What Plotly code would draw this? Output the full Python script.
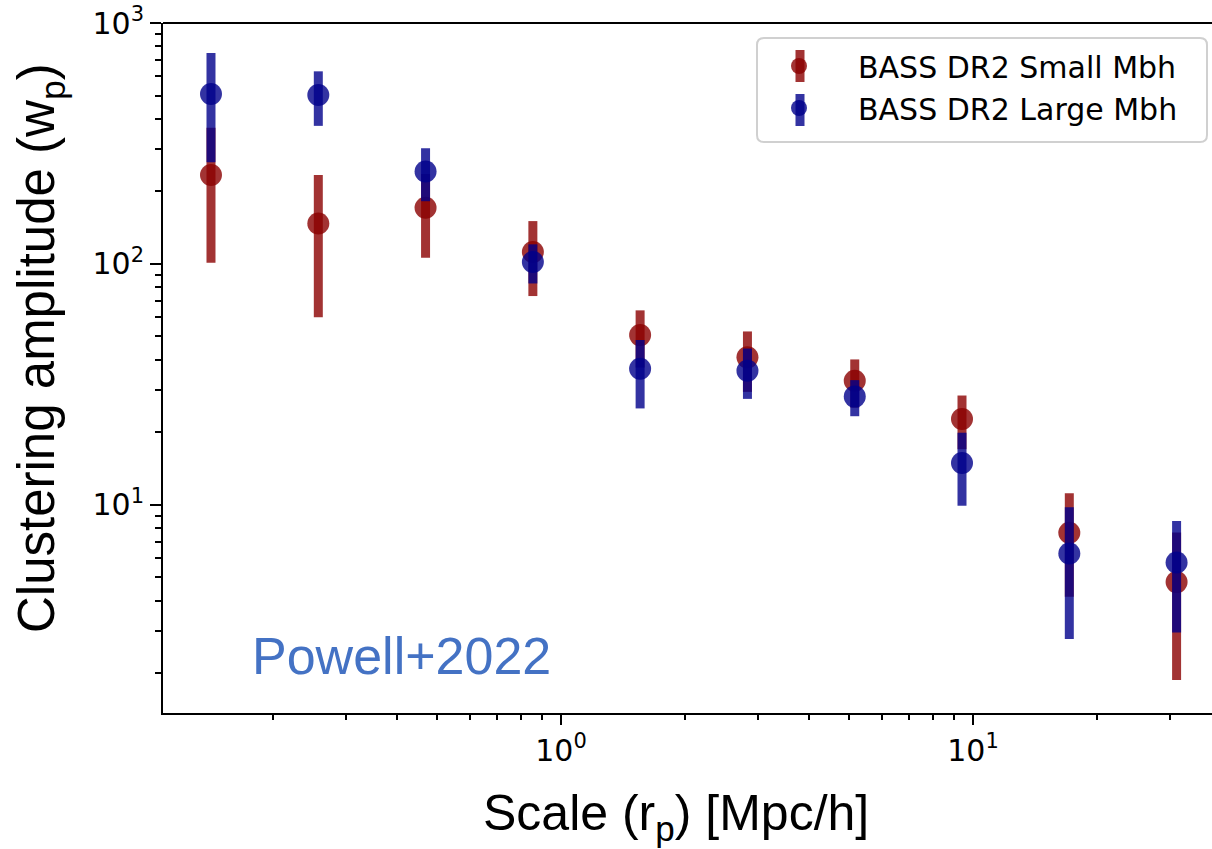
import plotly.graph_objects as go

# ---- data ----
scale_rp = [0.1414, 0.2576, 0.4691, 0.8545, 1.556, 2.835, 5.164, 9.404, 17.13, 31.20]
small_wp = [234, 147, 171, 112, 50.6, 40.9, 32.7, 22.7, 7.65, 4.77]
small_err = [133, 87, 65, 38.5, 13.5, 11.5, 7.4, 5.7, 3.5, 2.9]
large_wp = [507, 502, 242, 101.7, 36.7, 36.0, 28.1, 14.9, 6.27, 5.75]
large_err = [243, 128, 60, 18.8, 11.6, 8.5, 4.8, 5.0, 3.5, 2.8]
series_names = ["BASS DR2 Small Mbh", "BASS DR2 Large Mbh"]
x_major = [1, 10]
x_major_text = ["10<sup>0</sup>", "10<sup>1</sup>"]
y_major = [10, 100, 1000]
y_major_text = ["10<sup>1</sup>", "10<sup>2</sup>", "10<sup>3</sup>"]
x_minor = [0.2, 0.3, 0.4, 0.5, 0.6, 0.7, 0.8, 0.9, 2, 3, 4, 5, 6, 7, 8, 9, 20, 30]
y_minor = [2, 3, 4, 5, 6, 7, 8, 9, 20, 30, 40, 50, 60, 70, 80, 90, 200, 300, 400, 500, 600, 700, 800, 900]

RED = "rgba(139,0,0,0.8)"
BLUE = "rgba(0,0,139,0.8)"
COLORS = [RED, BLUE]

fig = go.Figure()
for name, y, e, c in [(series_names[0], small_wp, small_err, RED),
                      (series_names[1], large_wp, large_err, BLUE)]:
    fig.add_trace(go.Scatter(
        x=scale_rp, y=y, mode="markers", name=name,
        marker=dict(size=22, color=c, line=dict(width=0)),
        error_y=dict(type="data", array=e, symmetric=True, color=c,
                     thickness=9, width=0),
    ))

# body margin is removed by post_script, so the figure fills the window
W, H = 1212, 849
SL, ST, SR, SB = 163, 23, 1212, 713       # plot area in screen pixels
L, T = SL, ST
pw, ph = SR - SL, SB - ST
R, B = W - L - pw, H - T - ph

def px(xp):
    return (xp - SL) / pw

def py(yp):
    return (SB - yp) / ph

fig.update_layout(
    width=W, height=H,
    margin=dict(l=L, r=R, t=T, b=B, pad=0, autoexpand=False),
    paper_bgcolor="white", plot_bgcolor="white",
    showlegend=True,
    legend=dict(x=px(740), y=py(40), xanchor="left", yanchor="top",
                font=dict(family="DejaVu Sans", size=30, color="black"),
                bgcolor="rgba(0,0,0,0)", borderwidth=0, tracegroupgap=0,
                itemwidth=108),
    font=dict(family="DejaVu Sans", color="black"),
)

fig.update_xaxes(
    type="log", range=[-0.96602, 1.5801], automargin=False, ticklabeloverflow="allow",
    showline=True, linecolor="black", linewidth=2,
    ticks="outside", ticklen=10, tickwidth=2, tickcolor="black",
    tickmode="array", tickvals=x_major, ticktext=x_major_text,
    tickfont=dict(family="DejaVu Sans", size=30, color="black"),
    minor=dict(ticks="outside", ticklen=5, tickwidth=1.5, tickcolor="black",
               tickmode="array", tickvals=x_minor, showgrid=False),
    showgrid=False, zeroline=False, mirror=False,
)
fig.update_yaxes(
    type="log", range=[0.1351, 3.0], automargin=False, ticklabeloverflow="allow",
    showline=True, linecolor="black", linewidth=2,
    ticks="outside", ticklen=11, tickwidth=2, tickcolor="black",
    tickmode="array", tickvals=y_major, ticktext=y_major_text,
    tickfont=dict(family="DejaVu Sans", size=30, color="black"),
    minor=dict(ticks="outside", ticklen=6, tickwidth=1.5, tickcolor="black",
               tickmode="array", tickvals=y_minor, showgrid=False),
    showgrid=False, zeroline=False, mirror=False,
)

# top spine (no right spine visible in the reference crop)
fig.add_shape(type="line", xref="paper", yref="paper", x0=0, x1=1, y0=1, y1=1,
              line=dict(color="black", width=2), layer="above")

# rounded legend frame
x0, x1 = px(757), px(1207)
y0, y1 = py(142), py(38)
rx, ry = 7 / pw, 7 / ph
path = (f"M {x0+rx},{y1} L {x1-rx},{y1} Q {x1},{y1} {x1},{y1-ry} "
        f"L {x1},{y0+ry} Q {x1},{y0} {x1-rx},{y0} L {x0+rx},{y0} "
        f"Q {x0},{y0} {x0},{y0+ry} L {x0},{y1-ry} Q {x0},{y1} {x0+rx},{y1} Z")
fig.add_shape(type="path", xref="paper", yref="paper", path=path,
              line=dict(color="#d0d0d0", width=2), fillcolor="rgba(255,255,255,0.8)",
              layer="above")
# vertical error-bar glyphs behind the legend markers
for i, c in enumerate(COLORS):
    yc = 66 + 44 * i
    fig.add_shape(type="rect", xref="paper", yref="paper",
                  x0=px(800 - 4.5), x1=px(800 + 4.5), y0=py(yc + 16), y1=py(yc - 16),
                  line=dict(width=0), fillcolor=c, layer="above")

# axis titles
fig.add_annotation(text="Scale (r<sub>p</sub>) [Mpc/h]", xref="paper", yref="paper",
                   x=px(676), y=py(816), xanchor="center", yanchor="middle",
                   showarrow=False, font=dict(family="Liberation Sans", size=50, color="black"))
fig.add_annotation(text="Clustering amplitude (w<sub>p</sub>)", xref="paper", yref="paper",
                   x=0, xshift=40 - SL, y=py(348), xanchor="center", yanchor="middle",
                   textangle=-90, showarrow=False,
                   font=dict(family="Liberation Sans", size=51, color="black"))
fig.add_annotation(text="Powell+2022", xref="paper", yref="paper",
                   x=px(250), y=py(656), xanchor="left", yanchor="middle",
                   showarrow=False, font=dict(family="Liberation Sans", size=52, color="#4472C4"))

fig.write_html("out.html", config={"displayModeBar": False},
               post_script="document.body.style.margin='0';document.body.style.overflow='hidden';")
